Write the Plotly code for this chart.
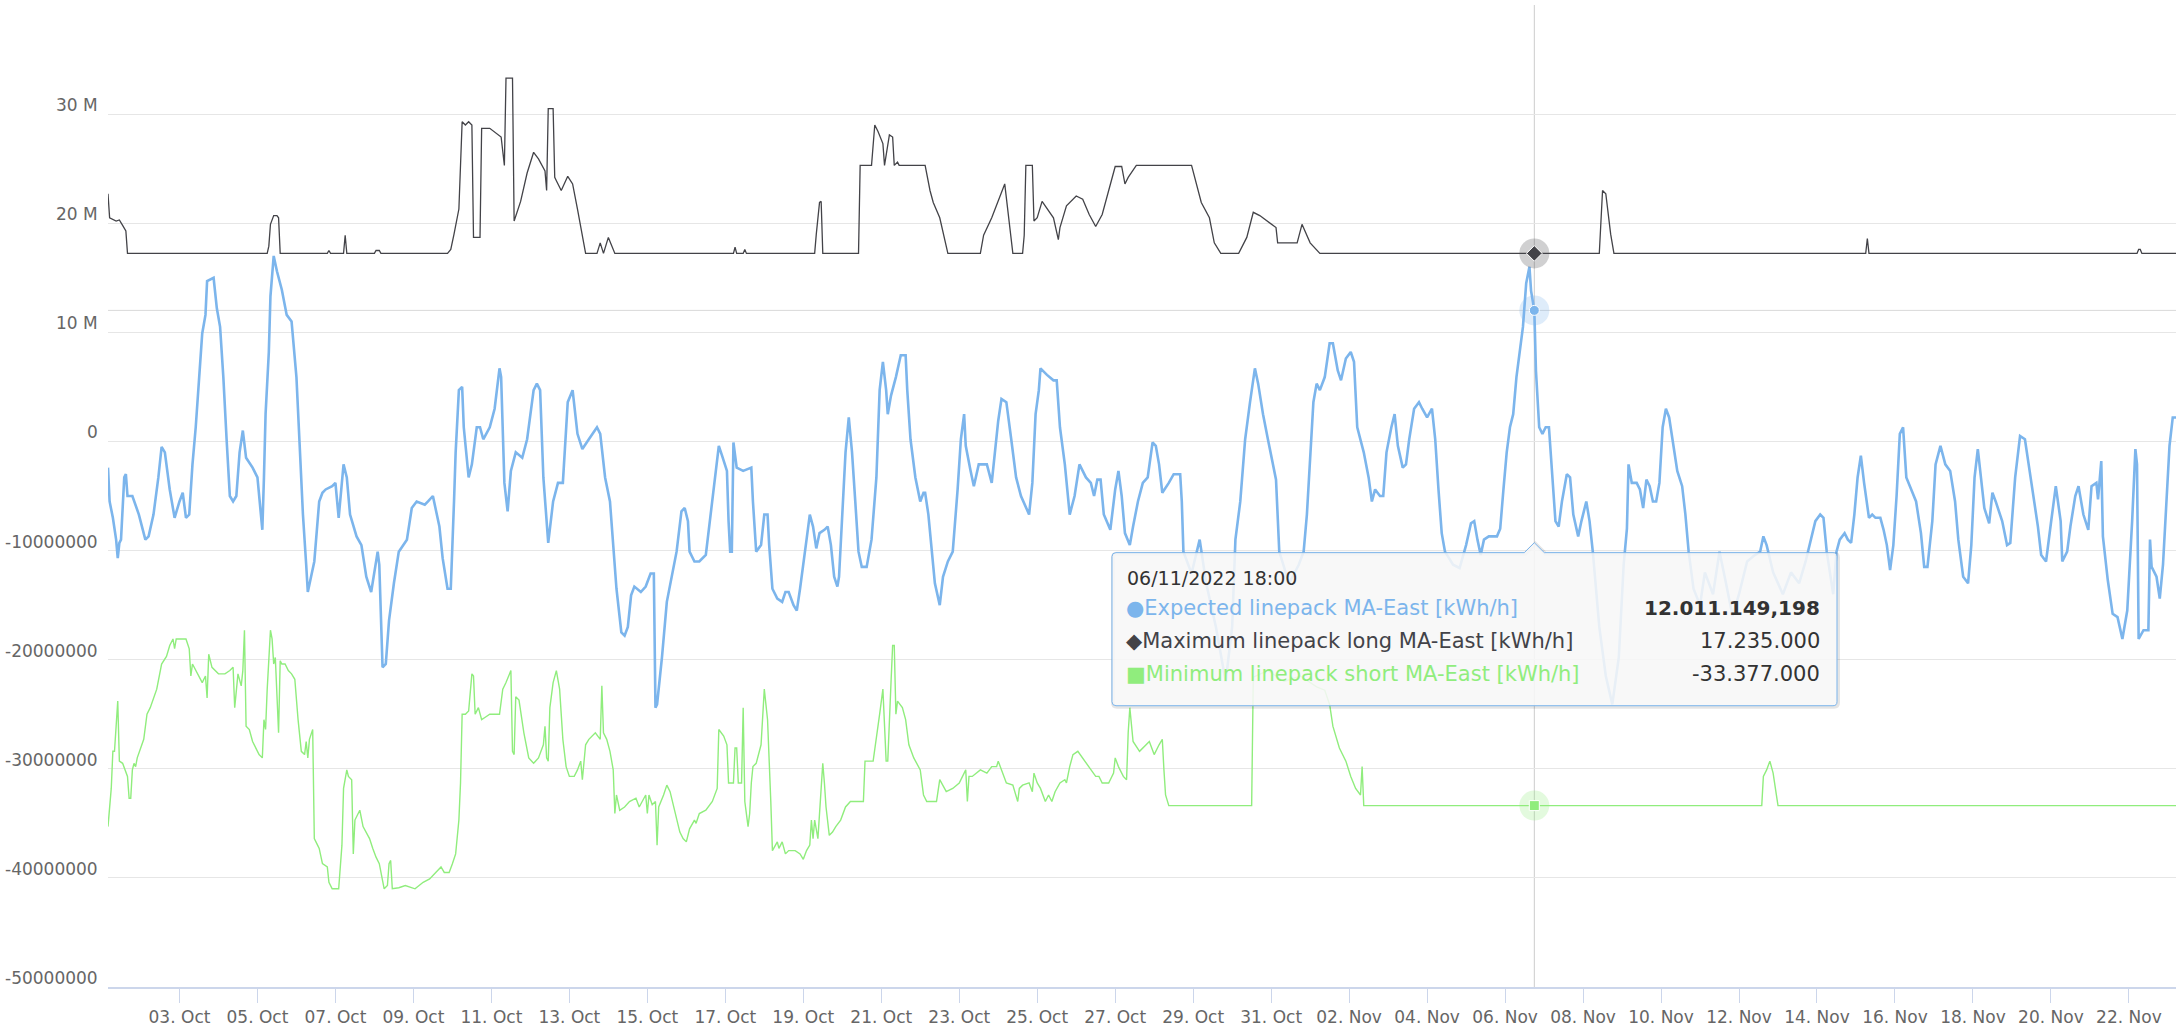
import numpy as np
import pandas as pd
import plotly.graph_objects as go

# ---------------------------------------------------------------- data
# Hours are counted from 2022-10-03 00:00 (hourly data), values in millions of kWh/h
T0 = pd.Timestamp("2022-10-03 00:00")
X_START = pd.Timestamp("2022-10-01 04:00")
X_END = pd.Timestamp("2022-11-23 05:00")

NAME_EXP = "Expected linepack MA-East [kWh/h]"
NAME_MAX = "Maximum linepack long MA-East [kWh/h]"
NAME_MIN = "Minimum linepack short MA-East [kWh/h]"

EXP_H = [
    -44, -43, -41, -39, -38, -37, -36, -35, -34, -33,
    -32, -29, -25, -21, -19, -16, -13, -11, -9, -6,
    -3, 0, 2, 4, 6, 8, 10, 12, 14, 16,
    17, 21, 23, 25, 27, 29, 31, 33, 35, 37,
    39, 41, 45, 48, 50, 51, 52, 53, 55, 56,
    58, 60, 63, 66, 69, 72, 74, 76, 78, 79,
    81, 83, 86, 88, 90, 94, 96, 97, 98, 101,
    103, 105, 109, 112, 115, 118, 120, 122, 123, 125,
    127, 129, 132, 135, 140, 143, 146, 151, 153, 156,
    160, 162, 165, 167, 169, 170, 172, 174, 175, 178,
    180, 183, 185, 187, 191, 194, 197, 198, 200, 202,
    204, 207, 211, 214, 218, 220, 222, 224, 227, 230,
    233, 236, 239, 242, 245, 248, 252, 257, 259, 262,
    265, 269, 272, 274, 276, 278, 280, 284, 287, 290,
    292, 293, 294, 297, 300, 303, 306, 309, 311, 313,
    314, 317, 320, 324, 326, 329, 332, 334, 337, 338,
    339, 340, 341, 343, 347, 352, 353, 355, 358, 360,
    362, 363, 365, 368, 371, 373, 375, 378, 380, 382,
    384, 386, 388, 390, 392, 394, 397, 399, 401, 403,
    405, 406, 408, 410, 412, 414, 416, 418, 420, 423,
    426, 429, 431, 433, 435, 436, 438, 441, 444, 447,
    448, 450, 453, 456, 458, 459, 461, 463, 465, 468,
    470, 473, 476, 479, 481, 483, 484, 487, 489, 492,
    497, 500, 502, 504, 506, 509, 512, 515, 518, 521,
    523, 525, 527, 529, 530, 534, 538, 540, 542, 545,
    548, 551, 554, 558, 561, 563, 565, 567, 569, 573,
    576, 578, 580, 582, 585, 587, 590, 593, 596, 599,
    601, 603, 605, 609, 612, 616, 617, 618, 623, 628,
    632, 638, 644, 648, 650, 653, 656, 659, 662, 664,
    667, 670, 673, 675, 677, 683, 689, 692, 694, 698,
    700, 702, 705, 708, 710, 713, 715, 718, 721, 723,
    725, 729, 732, 734, 736, 739, 741, 743, 746, 748,
    750, 753, 755, 757, 760, 763, 765, 768, 771, 773,
    775, 777, 779, 784, 788, 792, 795, 797, 799, 801,
    803, 806, 811, 813, 815, 817, 819, 821, 823, 825,
    827, 829, 831, 832, 833, 834, 835, 837, 839, 841,
    843, 845, 847, 849, 851, 854, 856, 858, 861, 863,
    866, 868, 870, 874, 878, 882, 886, 889, 891, 892,
    894, 897, 899, 901, 903, 905, 907, 909, 911, 913,
    915, 917, 919, 922, 925, 927, 929, 932, 936, 939,
    944, 948, 952, 956, 960, 965, 969, 973, 975, 977,
    981, 987, 992, 997, 1001, 1007, 1010, 1012, 1014, 1018,
    1020, 1022, 1025, 1027, 1029, 1031, 1033, 1035, 1037, 1040,
    1042, 1044, 1047, 1049, 1051, 1053, 1055, 1057, 1059, 1061,
    1063, 1066, 1069, 1072, 1074, 1076, 1079, 1081, 1084, 1087,
    1090, 1093, 1095, 1098, 1101, 1103, 1105, 1107, 1109, 1111,
    1114, 1116, 1118, 1122, 1125, 1127, 1130, 1133, 1136, 1138,
    1141, 1144, 1146, 1149, 1152, 1155, 1158, 1159, 1162, 1164,
    1167, 1169, 1172, 1175, 1177, 1180, 1181, 1183, 1184, 1187,
    1190, 1193, 1196, 1199, 1202, 1204, 1205, 1206, 1209, 1212,
    1213, 1214, 1217, 1219, 1221, 1223, 1225, 1227, 1229,
]
EXP_V = [
    -2.4, -5.5, -7.0, -9.0, -10.7, -9.3, -9.0, -5.5, -3.3, -3.0,
    -5.0, -5.0, -6.7, -9.0, -8.7, -6.7, -3.3, -0.5, -1.0, -4.4,
    -7.0, -5.5, -4.7, -7.0, -6.7, -2.1, 1.3, 5.6, 9.9, 11.6,
    14.7, 15.0, 12.2, 10.5, 5.9, 0.2, -5.0, -5.5, -5.0, -1.0,
    1.0, -1.5, -2.4, -3.3, -6.7, -8.1, -3.3, 2.5, 8.2, 13.3,
    17.0, 15.6, 13.9, 11.6, 11.0, 5.9, -0.4, -6.7, -11.3, -13.8,
    -12.4, -11.0, -5.5, -4.7, -4.4, -4.1, -3.8, -5.5, -7.0, -2.1,
    -3.3, -6.7, -8.7, -9.5, -12.4, -13.8, -11.8, -10.1, -11.3, -20.7,
    -20.4, -16.4, -13.0, -10.1, -9.0, -6.1, -5.5, -5.8, -5.5, -5.0,
    -7.8, -10.7, -13.5, -13.5, -5.5, -1.0, 4.7, 5.0, 1.3, -3.3,
    -2.1, 1.3, 1.3, 0.2, 1.3, 3.0, 6.7, 5.9, -3.8, -6.4,
    -2.7, -1.0, -1.5, 0.2, 4.7, 5.3, 4.7, -3.3, -9.3, -5.5,
    -3.8, -3.8, 3.6, 4.7, 0.7, -0.7, 0.2, 1.3, 0.7, -3.3,
    -5.5, -13.5, -17.5, -17.8, -17.0, -14.1, -13.3, -13.8, -13.3, -12.1,
    -12.1, -24.4, -24.1, -19.8, -14.7, -12.4, -10.1, -6.4, -6.1, -7.3,
    -10.1, -11.0, -11.0, -10.4, -7.8, -4.4, -0.4, -1.3, -2.7, -7.3,
    -10.1, -10.1, -0.1, -2.4, -2.7, -2.4, -5.5, -10.1, -9.5, -6.7,
    -6.7, -9.5, -13.5, -14.4, -14.7, -13.8, -13.8, -15.0, -15.5, -13.5,
    -11.0, -9.0, -6.7, -7.8, -9.8, -8.4, -8.1, -7.8, -9.5, -12.4,
    -13.3, -12.4, -6.7, -1.0, 2.2, -1.0, -5.5, -10.1, -11.5, -11.5,
    -9.0, -3.3, 4.7, 7.3, 4.7, 2.5, 4.2, 5.9, 7.9, 7.9,
    4.7, 0.2, -3.3, -5.5, -4.7, -4.7, -6.7, -10.1, -13.0, -15.0,
    -12.4, -11.0, -10.1, -4.4, 0.2, 2.5, -0.4, -2.7, -4.1, -2.1,
    -2.1, -3.8, -1.0, 1.9, 3.9, 3.6, 0.2, -3.3, -5.0, -6.1,
    -6.7, -3.8, 2.5, 4.7, 6.7, 6.1, 5.6, 5.6, 1.3, -2.1,
    -6.7, -5.0, -2.1, -3.3, -3.8, -5.0, -3.5, -3.5, -6.7, -8.1,
    -4.4, -2.7, -5.0, -8.4, -9.5, -7.8, -5.5, -3.8, -3.3, -0.1,
    -0.4, -2.1, -4.7, -3.8, -3.0, -3.0, -5.5, -10.1, -12.1, -9.0,
    -13.0, -17.0, -22.0, -17.0, -9.0, -5.5, 0.2, 3.6, 6.7, 5.3,
    2.5, 0.2, -2.1, -3.5, -10.1, -13.0, -11.3, -10.1, -6.7, 3.6,
    5.3, 4.7, 5.9, 9.0, 9.0, 6.5, 5.6, 7.6, 8.2, 7.3,
    1.3, -1.0, -3.3, -5.5, -4.4, -5.0, -5.0, -1.0, 1.3, 2.5,
    -0.4, -2.4, -2.1, 0.2, 3.0, 3.6, 3.0, 2.2, 3.0, 0.2,
    -4.4, -8.4, -10.1, -11.3, -11.6, -9.5, -7.5, -7.3, -9.0, -10.4,
    -9.0, -8.7, -8.7, -8.0, -4.4, -1.0, 1.3, 2.5, 5.9, 8.2,
    10.5, 14.5, 16.0, 13.8, 13.0, 12.011149198, 6.5, 1.3, 0.7, 1.3,
    1.3, -3.3, -7.3, -7.8, -5.5, -3.0, -3.3, -6.7, -8.7, -7.3,
    -5.5, -7.3, -10.1, -17.0, -21.5, -24.1, -19.8, -11.3, -8.0, -2.1,
    -3.8, -3.8, -4.4, -6.1, -3.5, -4.1, -5.5, -5.5, -3.8, 1.3,
    3.0, 2.2, 0.2, -2.7, -4.1, -6.7, -10.1, -13.5, -15.0, -12.0,
    -14.0, -10.1, -13.0, -16.0, -14.0, -11.0, -10.5, -10.1, -8.7, -9.5,
    -12.0, -14.0, -12.0, -13.0, -11.0, -7.3, -6.7, -7.0, -10.1, -14.0,
    -10.1, -9.0, -8.4, -9.0, -9.3, -6.7, -3.3, -1.3, -3.8, -7.0,
    -6.7, -7.0, -7.0, -8.1, -9.5, -11.8, -9.5, -5.0, 0.7, 1.3,
    -3.3, -4.4, -5.5, -8.4, -11.5, -11.5, -7.3, -2.1, -0.4, -2.1,
    -2.7, -5.5, -9.0, -12.4, -13.0, -9.5, -3.3, -0.7, -3.3, -6.1,
    -7.5, -4.7, -5.5, -7.3, -9.5, -9.3, -3.3, 0.5, 0.2, -1.8,
    -5.0, -7.8, -10.4, -11.0, -7.5, -4.1, -7.3, -11.0, -10.1, -7.8,
    -5.0, -4.1, -6.7, -8.1, -4.1, -3.8, -5.3, -1.8, -8.7, -12.7,
    -15.8, -16.1, -18.1, -15.5, -7.3, -0.7, -2.1, -18.1, -17.3, -17.3,
    -9.0, -11.5, -12.4, -14.4, -11.3, -5.5, -0.4, 2.2, 2.2,
]

MAX_H = [
    -44, -43, -39, -37, -35, -33, -32, 54, 55, 56,
    58, 60, 61, 62, 91, 92, 93, 101, 102, 103,
    120, 121, 123, 124, 165, 167, 169, 172, 174, 176,
    178, 180, 181, 185, 186, 191, 198, 200, 201, 205,
    206, 207, 210, 214, 218, 221, 225, 226, 227, 230,
    231, 232, 235, 239, 242, 245, 248, 250, 257, 259,
    261, 264, 268, 341, 342, 343, 347, 348, 349, 391,
    392, 394, 395, 396, 418, 419, 426, 428, 430, 433,
    434, 436, 437, 439, 440, 442, 443, 459, 462, 464,
    468, 473, 493, 495, 500, 508, 513, 519, 520, 521,
    525, 526, 528, 531, 538, 541, 542, 546, 552, 556,
    560, 564, 568, 576, 580, 582, 584, 589, 623, 629,
    634, 637, 641, 652, 657, 661, 665, 675, 676, 688,
    691, 696, 702, 834, 874, 876, 878, 881, 883, 1038,
    1039, 1040, 1205, 1206, 1207, 1208, 1229,
]
MAX_V = [
    22.7, 20.5, 20.2, 20.3, 19.8, 19.3, 17.235, 17.235, 17.9, 19.9,
    20.7, 20.7, 20.5, 17.235, 17.235, 17.5, 17.235, 17.235, 18.9, 17.235,
    17.235, 17.5, 17.5, 17.235, 17.235, 17.6, 19.0, 21.3, 29.3, 29.0,
    29.3, 29.0, 18.7, 18.7, 28.7, 28.7, 27.9, 25.3, 33.3, 33.3,
    20.2, 20.7, 22.0, 24.6, 26.5, 25.9, 24.8, 23.0, 30.5, 30.5,
    24.2, 23.9, 23.0, 24.3, 23.6, 21.3, 19.0, 17.235, 17.235, 18.2,
    17.235, 18.7, 17.235, 17.235, 17.8, 17.235, 17.235, 17.6, 17.235, 17.235,
    19.0, 21.9, 22.0, 17.235, 17.235, 25.3, 25.3, 29.0, 28.4, 27.3,
    25.3, 27.1, 28.1, 27.9, 25.3, 25.6, 25.3, 25.3, 23.0, 21.9,
    20.5, 17.235, 17.235, 18.9, 20.5, 23.6, 17.235, 17.235, 18.9, 25.3,
    25.3, 20.2, 20.5, 22.0, 20.5, 18.5, 19.6, 21.6, 22.5, 22.2,
    20.8, 19.7, 20.8, 25.2, 25.2, 23.6, 24.2, 25.3, 25.3, 21.9,
    20.5, 18.2, 17.235, 17.235, 18.7, 21.0, 20.7, 19.6, 18.2, 18.2,
    19.9, 18.2, 17.235, 17.235, 17.235, 23.0, 22.7, 19.0, 17.235, 17.235,
    18.6, 17.235, 17.235, 17.6, 17.6, 17.235, 17.235,
]

MIN_H = [
    -44, -43, -42, -41, -40, -39, -38, -37, -35, -32,
    -31, -30, -29, -28, -27, -26, -24, -22, -20, -18,
    -14, -11, -8, -6, -4, -3, -2, 0, 4, 6,
    7, 8, 10, 12, 14, 16, 17, 18, 20, 24,
    28, 31, 33, 34, 35, 36, 38, 39, 40, 41,
    43, 45, 49, 51, 52, 53, 54, 55, 56, 57,
    58, 59, 61, 62, 63, 65, 67, 69, 71, 73,
    75, 77, 78, 79, 80, 82, 83, 85, 86, 88,
    91, 92, 94, 98, 100, 101, 103, 104, 106, 107,
    108, 110, 111, 113, 115, 117, 119, 121, 123, 125,
    126, 128, 129, 130, 131, 135, 139, 145, 150, 154,
    158, 161, 163, 166, 168, 170, 172, 173, 174, 176,
    178, 180, 181, 182, 184, 186, 188, 191, 197, 199,
    201, 204, 205, 206, 207, 209, 212, 215, 218, 221,
    224, 225, 226, 227, 228, 230, 232, 234, 236, 238,
    240, 243, 245, 247, 248, 250, 252, 254, 256, 259,
    260, 261, 263, 265, 267, 268, 269, 271, 274, 277,
    281, 283, 285, 287, 288, 289, 291, 293, 294, 295,
    298, 300, 302, 306, 308, 310, 312, 314, 317, 318,
    320, 324, 328, 331, 332, 335, 337, 338, 341, 342,
    343, 344, 346, 347, 348, 350, 351, 352, 353, 355,
    358, 360, 362, 364, 365, 368, 369, 371, 373, 375,
    379, 382, 384, 386, 388, 389, 390, 391, 392, 393,
    395, 396, 397, 398, 400, 402, 404, 407, 410, 413,
    421, 422, 427, 429, 431, 433, 434, 435, 436, 437,
    438, 439, 440, 441, 442, 445, 447, 449, 452, 456,
    458, 460, 466, 468, 470, 472, 476, 480, 484, 485,
    486, 488, 493, 497, 500, 503, 504, 506, 509, 513,
    516, 517, 519, 523, 525, 526, 528, 530, 533, 535,
    537, 539, 542, 545, 546, 548, 550, 553, 556, 560,
    564, 566, 568, 572, 575, 576, 578, 581, 583, 584,
    585, 587, 591, 597, 600, 603, 605, 606, 607, 609,
    660, 661, 670, 680, 690, 700, 705, 708, 710, 714,
    718, 721, 724, 727, 728, 729, 834, 974, 975, 977,
    979, 981, 983, 984, 1229,
]
MIN_V = [
    -35.3, -33.5, -31.8, -28.4, -28.4, -26.1, -23.8, -29.3, -29.5, -30.7,
    -32.7, -32.7, -30.1, -29.5, -29.8, -29.0, -28.1, -27.3, -25.0, -24.4,
    -22.7, -20.4, -19.7, -18.7, -18.1, -19.0, -18.1, -18.1, -18.1, -19.0,
    -21.5, -20.4, -21.0, -21.5, -22.1, -21.5, -23.5, -19.5, -20.7, -21.3,
    -21.3, -21.0, -20.7, -24.4, -22.7, -21.3, -22.4, -21.0, -17.3, -26.1,
    -26.4, -27.5, -28.7, -29.0, -25.5, -26.4, -22.7, -19.8, -17.3, -18.1,
    -20.4, -19.8, -26.7, -20.1, -20.4, -20.4, -21.0, -21.3, -21.8, -25.5,
    -28.4, -28.7, -27.5, -29.0, -27.3, -26.4, -36.4, -37.0, -37.3, -38.7,
    -39.0, -40.4, -41.0, -41.0, -37.0, -31.8, -30.1, -30.7, -31.0, -37.8,
    -34.7, -34.1, -33.8, -35.3, -35.8, -36.4, -37.3, -38.1, -38.7, -40.1,
    -41.0, -40.7, -38.7, -38.4, -41.0, -40.9, -40.7, -41.0, -40.4, -40.1,
    -39.5, -39.0, -39.5, -39.5, -38.7, -37.8, -34.7, -31.3, -25.0, -25.0,
    -24.7, -21.3, -21.5, -25.0, -24.4, -25.5, -25.3, -25.0, -25.0, -22.7,
    -22.1, -21.0, -28.4, -28.7, -23.4, -23.7, -26.7, -29.0, -29.5, -29.0,
    -27.8, -26.1, -29.0, -29.3, -24.4, -22.1, -21.0, -22.7, -27.3, -29.8,
    -30.7, -30.7, -30.1, -29.3, -31.0, -27.8, -27.3, -27.0, -26.7, -27.3,
    -22.4, -26.7, -27.3, -28.4, -30.1, -34.1, -32.4, -33.8, -33.5, -33.0,
    -32.7, -33.5, -33.0, -32.4, -34.1, -32.4, -33.3, -33.0, -37.0, -33.5,
    -32.4, -31.5, -32.1, -34.7, -35.8, -36.4, -36.7, -35.5, -34.7, -35.0,
    -34.1, -33.8, -33.0, -31.8, -26.4, -27.0, -27.8, -31.3, -31.3, -28.1,
    -28.1, -31.3, -31.3, -24.4, -33.0, -35.3, -34.1, -31.3, -29.8, -29.5,
    -27.8, -22.7, -25.5, -33.0, -37.5, -36.7, -37.3, -36.7, -37.8, -37.5,
    -37.5, -37.8, -38.3, -37.5, -37.0, -34.7, -36.4, -34.7, -35.8, -36.4,
    -31.8, -29.5, -31.3, -33.5, -36.1, -35.8, -35.3, -34.7, -33.5, -33.0,
    -33.0, -29.3, -29.3, -27.3, -25.0, -22.7, -25.5, -29.3, -29.3, -25.0,
    -22.1, -18.7, -18.7, -25.0, -23.8, -24.4, -25.5, -27.8, -29.0, -30.1,
    -32.4, -33.0, -33.0, -31.0, -31.5, -32.1, -31.8, -31.3, -30.1, -33.0,
    -30.7, -30.7, -30.1, -30.4, -29.8, -29.8, -29.3, -30.1, -31.3, -31.5,
    -33.0, -31.8, -31.5, -31.3, -32.1, -30.4, -31.3, -31.8, -33.0, -32.4,
    -33.0, -32.1, -31.3, -31.0, -31.3, -29.8, -28.7, -28.4, -29.0, -29.8,
    -30.7, -30.7, -31.3, -31.3, -30.4, -29.0, -29.8, -30.7, -31.0, -26.7,
    -24.4, -27.5, -28.4, -27.5, -28.7, -27.8, -27.3, -30.1, -32.4, -33.377,
    -33.377, -21.6, -21.0, -22.0, -21.5, -22.5, -22.8, -24.1, -26.1, -28.1,
    -29.3, -30.7, -31.8, -32.4, -29.8, -33.377, -33.377, -33.377, -30.7, -30.1,
    -29.3, -30.4, -32.4, -33.377, -33.377,
]

HOVER_H = 834
HOVER_LABEL = "06/11/2022 18:00"

Y_GRID = [-50e6, -40e6, -30e6, -20e6, -10e6, 0, 10e6, 20e6, 30e6, 40e6]
Y_LABEL_VALUES = [30e6, 20e6, 10e6, 0, -10e6, -20e6, -30e6, -40e6, -50e6]
Y_LABELS = ["30 M", "20 M", "10 M", "0", "-10000000", "-20000000",
            "-30000000", "-40000000", "-50000000"]
X_TICKS = pd.date_range("2022-10-03", "2022-11-22", freq="2D")
X_TICK_LABELS = [d.strftime("%d. %b") for d in X_TICKS]

# ---------------------------------------------------------------- style
BLUE, DARK, GREEN = "#7cb5ec", "#434348", "#90ed7d"
FONT = "DejaVu Sans"
W, H = 2178, 1029
L, R, T, B = 108, 2176, 5, 993
MILLION = 1e6


def to_time(hours):
    return T0 + pd.to_timedelta(np.asarray(hours, dtype=float), unit="h")


def value_at(hours, values, h):
    return dict(zip(hours, values))[h] * MILLION


def de_format(v):
    if abs(v - round(v)) < 1e-6:
        s = f"{int(round(v)):,}"
    else:
        s = f"{v:,.3f}"
    return s.replace(",", "_").replace(".", ",").replace("_", ".")


def pxx(px):
    return (px - L) / (R - L)


def pxy(py):
    return (B - py) / (B - T)


fig = go.Figure()
series = [
    (NAME_EXP, EXP_H, EXP_V, BLUE, 2.6),
    (NAME_MAX, MAX_H, MAX_V, DARK, 1.3),
    (NAME_MIN, MIN_H, MIN_V, GREEN, 1.4),
]
for name, hh, vv, col, lw in series:
    fig.add_trace(go.Scatter(
        x=to_time(hh), y=np.asarray(vv) * MILLION, mode="lines", name=name,
        line=dict(color=col, width=lw), hoverinfo="skip"))

hover_t = T0 + pd.Timedelta(hours=HOVER_H)
hv_exp = value_at(EXP_H, EXP_V, HOVER_H)
hv_max = value_at(MAX_H, MAX_V, HOVER_H)
hv_min = value_at(MIN_H, MIN_V, HOVER_H)

# hover halos and markers
for val, col, halo, sym, size in [
    (hv_exp, BLUE, "rgba(124,181,236,0.25)", "circle", 10),
    (hv_max, DARK, "rgba(67,67,72,0.25)", "diamond", 12),
    (hv_min, GREEN, "rgba(144,237,125,0.25)", "square", 10),
]:
    fig.add_trace(go.Scatter(x=[hover_t], y=[val], mode="markers",
                             marker=dict(size=30, color=halo, line=dict(width=0)),
                             hoverinfo="skip"))
    fig.add_trace(go.Scatter(x=[hover_t], y=[val], mode="markers",
                             marker=dict(size=size, color=col, symbol=sym,
                                         line=dict(color="white", width=1)),
                             hoverinfo="skip"))

shapes = [
    dict(type="line", xref="x", yref="paper", x0=hover_t, x1=hover_t, y0=0, y1=1,
         line=dict(color="#cccccc", width=1), layer="between"),
    dict(type="line", xref="paper", yref="y", x0=0, x1=1, y0=hv_exp, y1=hv_exp,
         line=dict(color="#d9d9d9", width=1), layer="between"),
]

# tooltip box (pixel geometry, pointer placed at the hovered x)
hx = L + (hover_t - X_START) / (X_END - X_START) * (R - L)
bx0, bx1, by0, by1, rr = 1112, 1837, 556, 710, 4


def P(px, py):
    return f"{pxx(px):.6f},{pxy(py):.6f}"


def box_path(dx=0, dy=0):
    x0, x1, y0, y1 = bx0 + dx, bx1 + dx, by0 + dy, by1 + dy
    ax = hx + dx
    return (f"M{P(x0 + rr, y0)} L{P(ax - 10, y0)} L{P(ax, y0 - 10)} L{P(ax + 10, y0)} "
            f"L{P(x1 - rr, y0)} Q{P(x1, y0)} {P(x1, y0 + rr)} L{P(x1, y1 - rr)} "
            f"Q{P(x1, y1)} {P(x1 - rr, y1)} L{P(x0 + rr, y1)} Q{P(x0, y1)} {P(x0, y1 - rr)} "
            f"L{P(x0, y0 + rr)} Q{P(x0, y0)} {P(x0 + rr, y0)} Z")


shapes.append(dict(type="path", xref="paper", yref="paper", path=box_path(1, 1),
                   line=dict(color="rgba(0,0,0,0.10)", width=4), layer="above"))
shapes.append(dict(type="path", xref="paper", yref="paper", path=box_path(),
                   fillcolor="rgba(247,247,247,0.88)",
                   line=dict(color=BLUE, width=1), layer="above"))

annotations = []
for val, lab in zip(Y_LABEL_VALUES, Y_LABELS):
    annotations.append(dict(x=0, xref="paper", y=val, yref="y", text=lab,
                            xanchor="right", yanchor="middle", xshift=-8, yshift=9,
                            showarrow=False, font=dict(family=FONT, size=17, color="#666666")))

annotations.append(dict(x=pxx(1125), y=pxy(582), xref="paper", yref="paper",
                        text=HOVER_LABEL, xanchor="left", yanchor="middle", showarrow=False,
                        font=dict(family=FONT, size=19, color="#333333")))
rows = [
    ("●", NAME_EXP, BLUE, hv_exp, True, 612),
    ("◆", NAME_MAX, DARK, hv_max, False, 645),
    ("■", NAME_MIN, GREEN, hv_min, False, 678),
]
for sym, name, col, val, bold, py in rows:
    annotations.append(dict(x=pxx(1124), y=pxy(py), xref="paper", yref="paper",
                            text=f"{sym}{name}", xanchor="left", yanchor="middle",
                            showarrow=False, font=dict(family=FONT, size=21, color=col)))
    vtxt = de_format(val)
    if bold:
        vtxt = f"<b>{vtxt}</b>"
    annotations.append(dict(x=pxx(1822), y=pxy(py), xref="paper", yref="paper",
                            text=vtxt, xanchor="right", yanchor="middle", showarrow=False,
                            font=dict(family=FONT, size=20 if bold else 21, color="#333333")))

fig.update_layout(
    width=W, height=H,
    margin=dict(l=L, r=W - R, t=T, b=H - B, pad=0),
    paper_bgcolor="white", plot_bgcolor="white",
    showlegend=False, hovermode=False,
    font=dict(family=FONT, color="#666666"),
    shapes=shapes, annotations=annotations,
    xaxis=dict(type="date", range=[X_START, X_END], tickvals=X_TICKS, ticktext=X_TICK_LABELS,
               ticks="outside", ticklen=14, tickwidth=1, tickcolor="#ccd6eb",
               showline=True, linecolor="#ccd6eb", linewidth=1.5, showgrid=False,
               zeroline=False, tickfont=dict(family=FONT, size=17, color="#666666")),
    yaxis=dict(range=[-50e6, 40e6], tickvals=Y_GRID, showticklabels=False,
               gridcolor="#e6e6e6", gridwidth=1, zeroline=False, showline=False, ticks=""),
)

fig.write_html("out.html", config={"displayModeBar": False},
               post_script="document.body.style.margin='0';document.body.style.overflow='hidden';")
